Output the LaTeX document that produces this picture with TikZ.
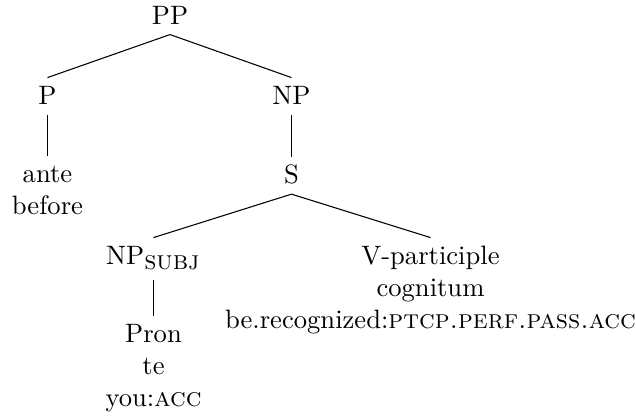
\documentclass[tikz,border=0pt]{standalone}
\begin{document}
\begin{tikzpicture}[x=0.3759pt,y=-0.3759pt,
  lbl/.style={inner sep=0pt, anchor=base},
  branch/.style={line width=0.4pt}]
\useasboundingbox (0,0) rectangle (636,417);
\node[lbl] (pp) at (170,25) {PP};
\node[lbl] (p) at (47.5,105) {P};
\node[lbl] (np) at (291.5,105) {NP};
\node[lbl] (ante) at (47.5,183) {\begin{tabular}[t]{@{}c@{}}ante\\before\end{tabular}};
\node[lbl] (s) at (291.5,184) {S};
\node[lbl] (npsubj) at (153.5,265) {NP$_{\textsc{subj}}$};
\node[lbl] (vpart) at (430.5,265) {\begin{tabular}[t]{@{}c@{}}V-participle\\cognitum\\be.recognized:\textsc{ptcp.perf.pass.acc}\end{tabular}};
\node[lbl] (pron) at (153.5,343) {\begin{tabular}[t]{@{}c@{}}Pron\\te\\you:\textsc{acc}\end{tabular}};
\draw[branch] ([yshift=-3.4pt]pp.south) -- ([yshift=10.3pt]p.base);
\draw[branch] ([yshift=-3.4pt]pp.south) -- ([yshift=10.3pt]np.base);
\draw[branch] ([yshift=-3.4pt]p.south) -- ([yshift=10.3pt]ante.base);
\draw[branch] ([yshift=-3.4pt]np.south) -- ([yshift=10.3pt]s.base);
\draw[branch] ([yshift=-3.4pt]s.south) -- ([yshift=10.3pt]npsubj.base);
\draw[branch] ([yshift=-3.4pt]s.south) -- ([yshift=10.3pt]vpart.base);
\draw[branch] ([yshift=-3.4pt]npsubj.south) -- ([yshift=10.3pt]pron.base);
\end{tikzpicture}
\end{document}
